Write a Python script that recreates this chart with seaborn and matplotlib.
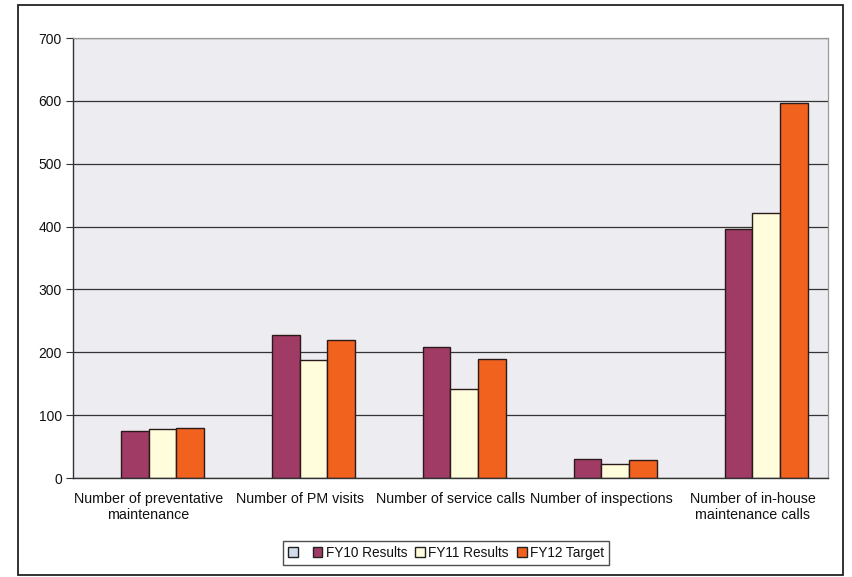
import matplotlib
matplotlib.use("Agg")
import matplotlib.pyplot as plt
from matplotlib.patches import Rectangle, Patch
import numpy as np
import pandas as pd
import seaborn as sns

categories = [
    "Number of preventative\nmaintenance",
    "Number of PM visits",
    "Number of service calls",
    "Number of inspections",
    "Number of in-house\nmaintenance calls",
]
# the first series has no entries but still reserves its slot in each group
series_names = [" ", "FY10 Results", "FY11 Results", "FY12 Target"]
fy10 = [75, 228, 209, 30, 396]
fy11 = [78, 188, 142, 23, 422]
fy12 = [79, 219, 190, 29, 596]
y_ticks = [0, 100, 200, 300, 400, 500, 600, 700]
colors = ["#D3DDEA", "#A03B65", "#FFFDDC", "#F2621F"]

df = pd.DataFrame({
    "category": categories * 3,
    "series": sum([[s] * len(categories) for s in series_names[1:]], []),
    "value": fy10 + fy11 + fy12,
})

sns.set_style("white")
plt.rcParams["font.family"] = ["Liberation Sans", "DejaVu Sans"]

fig = plt.figure(figsize=(8.52, 5.77), dpi=100)
W, H = 852, 577
ax = fig.add_axes([73 / W, 1 - 478 / H, (828 - 73) / W, (478 - 38) / H])
ax.set_facecolor("#EDECF0")

sns.barplot(data=df, x="category", y="value", hue="series", order=categories,
            hue_order=series_names, palette=dict(zip(series_names, colors)),
            width=0.73, gap=0, edgecolor="#2a1a1a", linewidth=1.0,
            saturation=1, legend=False, ax=ax)

ax.set_ylim(0, 700)
ax.set_xlim(-0.5, len(categories) - 0.5)
ax.set_yticks(y_ticks)
ax.set_yticklabels([str(t) for t in y_ticks], fontsize=10, color="#111111")
ax.yaxis.grid(True, color="#333333", linewidth=0.9)
ax.set_axisbelow(True)

# category boundaries carry the tick marks, labels sit at the centres
ax.set_xticks(np.arange(-0.5, len(categories), 1.0))
ax.set_xticklabels([])
ax.set_xticks(np.arange(len(categories)), minor=True)
ax.set_xticklabels(categories, minor=True, fontsize=10.3, color="#111111",
                   linespacing=1.15)
ax.tick_params(axis="x", which="minor", length=0, pad=10)
ax.tick_params(axis="x", which="major", length=5, color="#333333", direction="out")
ax.tick_params(axis="y", length=5, color="#333333", direction="out", pad=3, left=True)
ax.set_xlabel("")
ax.set_ylabel("")

for side in ["top", "right"]:
    ax.spines[side].set_color("#999999")
    ax.spines[side].set_linewidth(0.9)
for side in ["left", "bottom"]:
    ax.spines[side].set_color("#333333")
    ax.spines[side].set_linewidth(1.0)

handles = [Patch(facecolor=c, edgecolor="#222222", linewidth=1.0, label=s)
           for c, s in zip(colors, series_names)]
leg = fig.legend(handles=handles, loc="center", bbox_to_anchor=(446 / W, 1 - 553 / H),
                 ncol=4, fontsize=9.8, frameon=True, fancybox=False, edgecolor="#222222",
                 handlelength=0.7, handleheight=0.7, handletextpad=0.25,
                 columnspacing=0.6, borderpad=0.35)
leg.get_frame().set_linewidth(1.0)
for t in leg.get_texts():
    t.set_color("#111111")

fig.patches.append(Rectangle((18 / W, 1 - 575 / H), (843 - 18) / W, (575 - 5) / H,
                             transform=fig.transFigure, fill=False,
                             edgecolor="#222222", linewidth=1.3))

fig.savefig("out.png", dpi=100, facecolor="white")
